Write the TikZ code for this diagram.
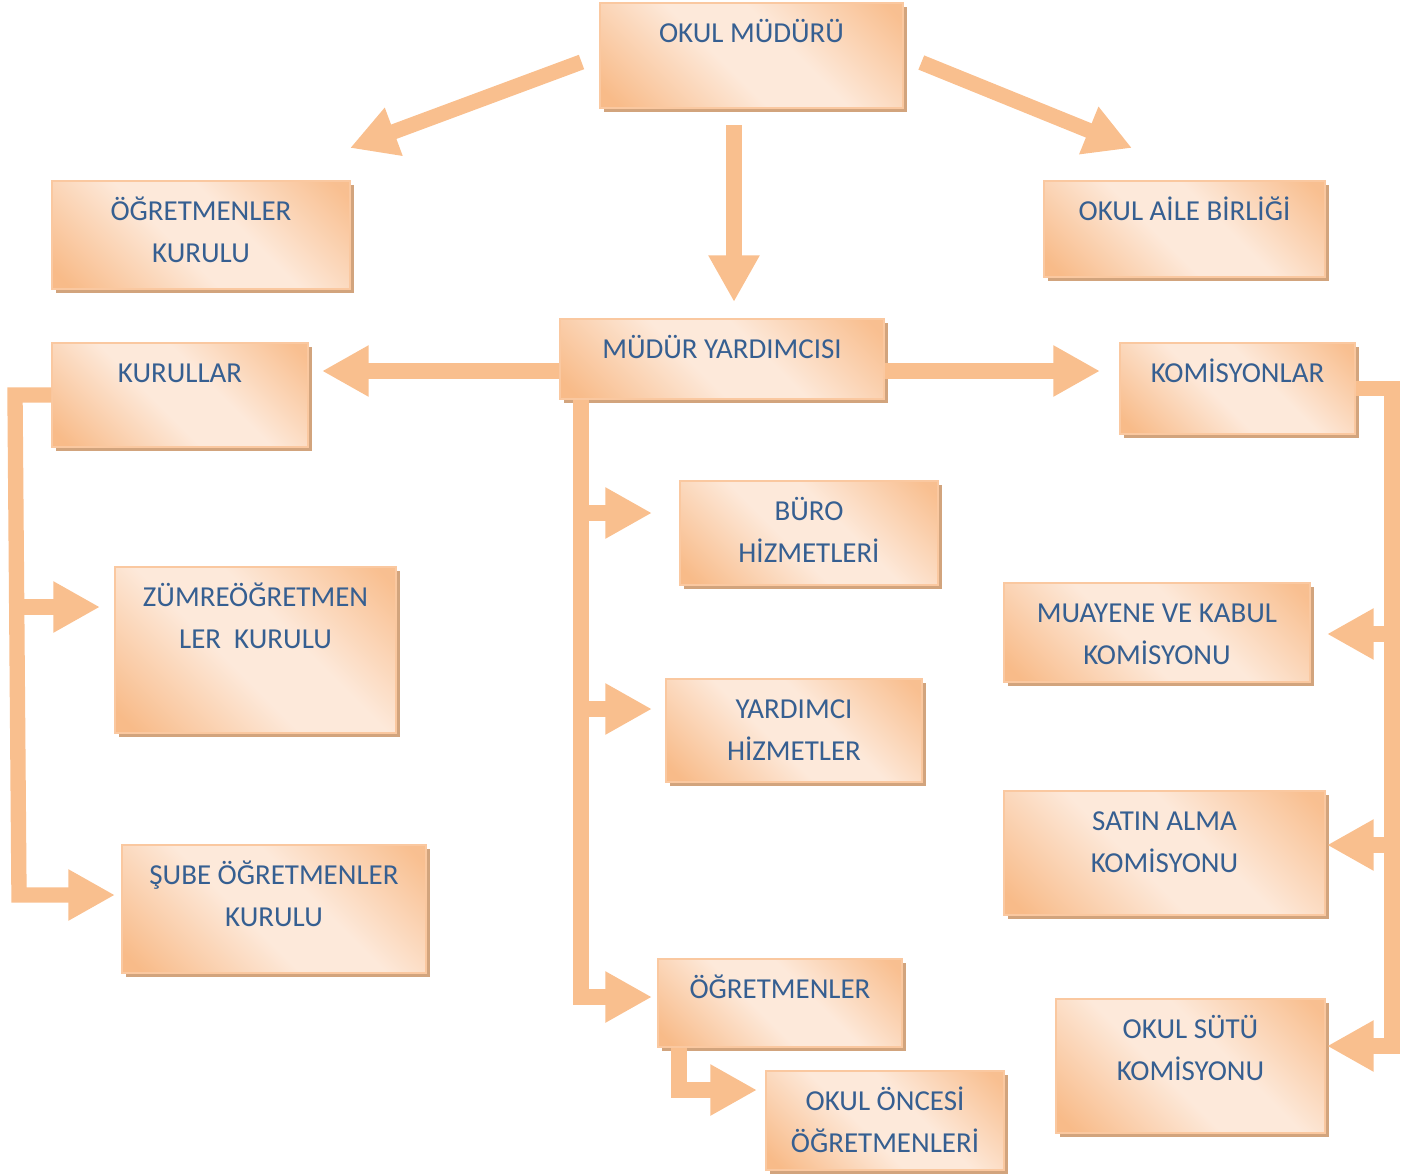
\documentclass[tikz,border=0pt]{standalone}
\usepackage{fontspec}
\setmainfont{Carlito}
\usetikzlibrary{arrows.meta,calc}

\definecolor{okrengi}{HTML}{F9BF8E}
\definecolor{koyu}{HTML}{F8BB89}
\definecolor{acik}{HTML}{FDE9DA}
\definecolor{kenar}{HTML}{FAC8A0}
\definecolor{golge}{HTML}{D2A47D}
\definecolor{lacivert}{HTML}{365F91}

\pgfdeclarehorizontalshading{kutuboya}{100bp}{color(0bp)=(koyu); color(18bp)=(koyu); color(44bp)=(acik); color(58bp)=(acik); color(82bp)=(koyu!90!acik); color(100bp)=(koyu)}

\tikzset{every picture/.style={line width=0.75pt}}
\tikzset{
  kutu/.style={draw=kenar, line width=1.5pt, shading=kutuboya, shading angle=45,
    preaction={fill=golge, transform canvas={xshift=3pt, yshift=-3pt}}},
  yazi/.style={anchor=base, align=center, inner sep=0pt, text=lacivert,
    font=\fontsize{21.7}{31.5}\selectfont},
  ok/.style={draw=okrengi, line width=11.5pt, line join=miter,
    -{Triangle[length=35pt, width=36pt]}}
}

\begin{document}
\begin{tikzpicture}[x=0.75pt,y=0.75pt,yscale=-1,xscale=1]
\useasboundingbox (0,0) rectangle (1410,1175);
% kutular
\node[kutu, minimum width=227.25pt, minimum height=78.75pt] (mudur) at (751.5,55.5) {};
\node[kutu, minimum width=223.5pt, minimum height=81pt] (ogrkurulu) at (201,235) {};
\node[kutu, minimum width=210.75pt, minimum height=72pt] (aile) at (1184.5,229) {};
\node[kutu, minimum width=243pt, minimum height=60pt] (myard) at (722,359) {};
\node[kutu, minimum width=192pt, minimum height=78pt] (kurullar) at (180,395) {};
\node[kutu, minimum width=176.25pt, minimum height=68.25pt] (komisyon) at (1237.5,388.5) {};
\node[kutu, minimum width=193.5pt, minimum height=78pt] (buro) at (809,533) {};
\node[kutu, minimum width=210.75pt, minimum height=124.5pt] (zumre) at (255.5,650) {};
\node[kutu, minimum width=192pt, minimum height=77.25pt] (yrdhizmet) at (794,730.5) {};
\node[kutu, minimum width=229.5pt, minimum height=74.25pt] (muayene) at (1157,632.5) {};
\node[kutu, minimum width=240.75pt, minimum height=93pt] (satin) at (1164.5,853) {};
\node[kutu, minimum width=228pt, minimum height=96pt] (sube) at (274,909) {};
\node[kutu, minimum width=183pt, minimum height=66pt] (ogretmen) at (780,1003) {};
\node[kutu, minimum width=178.5pt, minimum height=74.25pt] (oncesi) at (885,1120.5) {};
\node[kutu, minimum width=201.75pt, minimum height=100.5pt] (sut) at (1190.5,1066) {};
% yazilar (tek satir: +40, iki satir: +82)
\node[yazi] (t_mudur) at ($(mudur.north)+(0,40)$) {OKUL MÜDÜRÜ};
\node[yazi] (t_ogrkurulu) at ($(ogrkurulu.north)+(0,82)$) {ÖĞRETMENLER\\KURULU};
\node[yazi] (t_aile) at ($(aile.north)+(0,40)$) {OKUL AİLE BİRLİĞİ};
\node[yazi] (t_myard) at ($(myard.north)+(0,40)$) {MÜDÜR YARDIMCISI};
\node[yazi] (t_kurullar) at ($(kurullar.north)+(0,40)$) {KURULLAR};
\node[yazi] (t_komisyon) at ($(komisyon.north)+(0,40)$) {KOMİSYONLAR};
\node[yazi] (t_buro) at ($(buro.north)+(0,82)$) {BÜRO\\HİZMETLERİ};
\node[yazi] (t_zumre) at ($(zumre.north)+(0,82)$) {ZÜMREÖĞRETMEN\\LER\ \ KURULU};
\node[yazi] (t_yrdhizmet) at ($(yrdhizmet.north)+(0,82)$) {YARDIMCI\\HİZMETLER};
\node[yazi] (t_muayene) at ($(muayene.north)+(0,82)$) {MUAYENE VE KABUL\\KOMİSYONU};
\node[yazi] (t_satin) at ($(satin.north)+(0,82)$) {SATIN ALMA\\KOMİSYONU};
\node[yazi] (t_sube) at ($(sube.north)+(0,82)$) {ŞUBE ÖĞRETMENLER\\KURULU};
\node[yazi] (t_ogretmen) at ($(ogretmen.north)+(0,40)$) {ÖĞRETMENLER};
\node[yazi] (t_oncesi) at ($(oncesi.north)+(0,82)$) {OKUL ÖNCESİ\\ÖĞRETMENLERİ};
\node[yazi] (t_sut) at ($(sut.north)+(0,82)$) {OKUL SÜTÜ\\KOMİSYONU};
% ok uclari
\coordinate (u_ogrkurulu) at (350,148);
\coordinate (u_aile) at (1132,148);
\coordinate (u_myard) at (734,302);
\coordinate (u_kurullar) at (322,371);
\coordinate (u_komisyon) at (1100,371);
\coordinate (u_zumre) at (100,607);
\coordinate (u_sube) at (115,895);
\coordinate (u_buro) at (652,513);
\coordinate (u_yrdhizmet) at (652,709);
\coordinate (u_ogretmen) at (652,997);
\coordinate (u_oncesi) at (757,1090);
\coordinate (u_muayene) at (1327,634);
\coordinate (u_satin) at (1327,845);
\coordinate (u_sut) at (1327,1046);
% oklar
\draw[ok, shorten <=14pt] (mudur.west) -- (u_ogrkurulu);
\draw[ok, shorten <=14pt] (mudur.east) -- (u_aile);
\draw[ok, shorten <=12pt] (mudur.south -| u_myard) -- (u_myard);
\draw[ok] ($(myard.west)+(0,12)$) -- (u_kurullar);
\draw[ok] ($(myard.east)+(0,12)$) -- (u_komisyon);
% sol kol
\draw[ok] (kurullar.west) -- (15,395) -- (19,895) -- (u_sube);
\draw[ok] (17,607) -- (u_zumre);
% orta kol
\draw[ok] ($(myard.south west)+(22,0)$) |- (u_ogretmen);
\draw[ok] (582,513) -- (u_buro);
\draw[ok] (582,709) -- (u_yrdhizmet);
\draw[ok] ($(ogretmen.south west)+(22,0)$) |- (u_oncesi);
% sag kol
\draw[ok] (komisyon.east) -| (1392,1046) -- (u_sut);
\draw[ok] (1392,634) -- (u_muayene);
\draw[ok] (1392,845) -- (u_satin);
\end{tikzpicture}
\end{document}
